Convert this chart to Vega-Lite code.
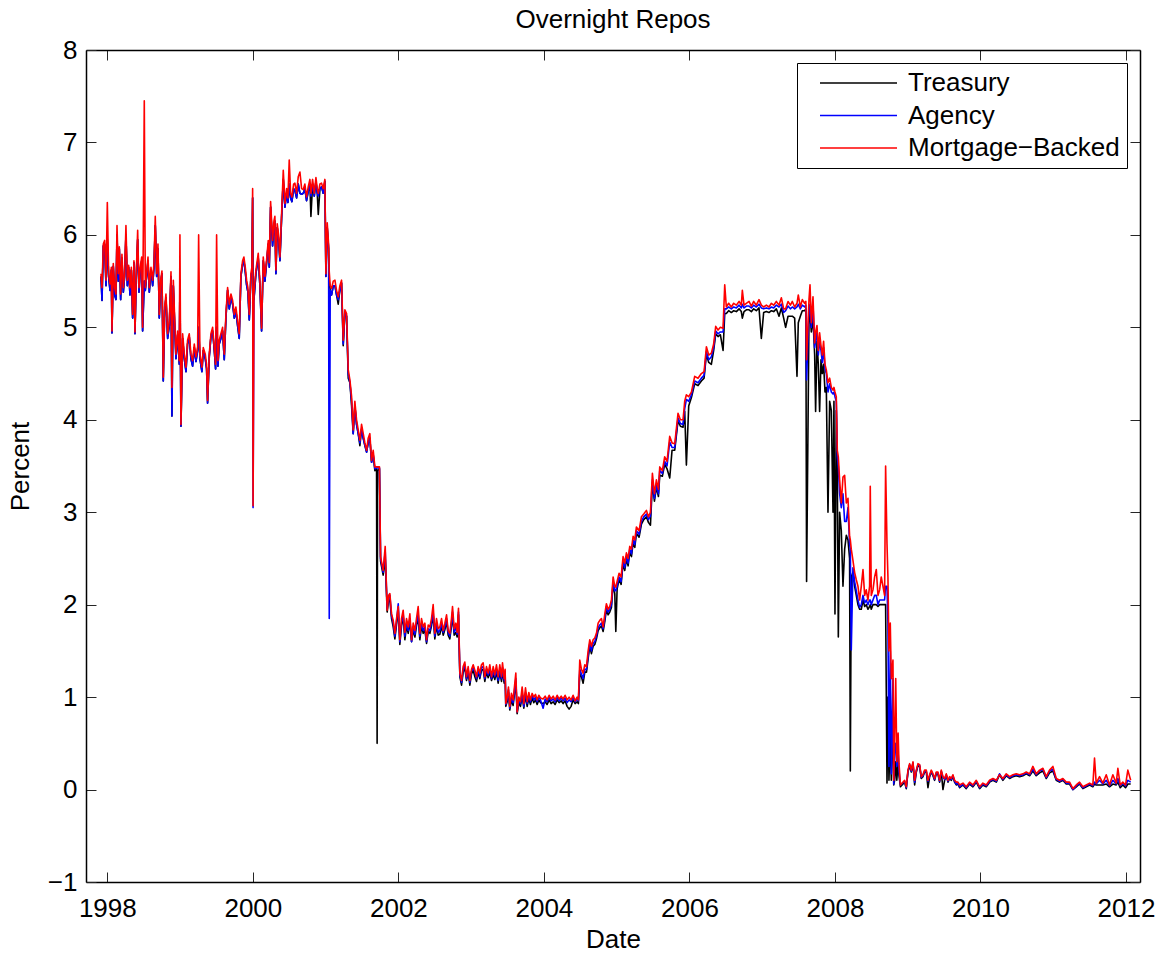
{
"$schema":"https://vega.github.io/schema/vega-lite/v6.json",
"width":1054,"height":832,"autosize":"none",
"padding":{"left":86,"top":50,"right":22,"bottom":71},
"background":"white",
"title":{"text":"Overnight Repos","fontSize":26,"fontWeight":"normal","color":"black","baseline":"alphabetic","offset":15,"dy":32,"anchor":"middle"},
"config":{"font":"Liberation Sans","view":{"stroke":null},
"axis":{"grid":false,"domainColor":"black","domainWidth":1.5,"tickColor":"#262626","tickWidth":1,"tickSize":-10,"labelFontSize":26,"labelColor":"black","titleFontSize":26,"titleFontWeight":"normal","titleColor":"black","labelFlush":false,"labelOverlap":false},
"legend":{"strokeColor":"black","fillColor":"white","padding":7,"labelFontSize":26,"labelColor":"black","labelLimit":400,"symbolType":"M0.6,0H16","symbolSize":100,"symbolStrokeWidth":1.3,"labelOffset":78,"rowPadding":6.5}},
"datasets":{"repo":[
{"yr":1997.913,"T":5.55,"A":5.55,"M":5.58},{"yr":1997.927,"T":5.29,"A":5.29,"M":5.43},{"yr":1997.945,"T":5.88,"A":5.88,"M":5.90},{"yr":1997.963,"T":5.90,"A":5.90,"M":5.94},{"yr":1997.982,"T":5.45,"A":5.45,"M":5.51},{"yr":1998.000,"T":5.95,"A":5.95,"M":6.35},{"yr":1998.018,"T":5.55,"A":5.55,"M":5.58},{"yr":1998.037,"T":5.40,"A":5.40,"M":5.47},{"yr":1998.055,"T":5.62,"A":5.62,"M":5.65},{"yr":1998.064,"T":4.94,"A":4.94,"M":4.96},{"yr":1998.082,"T":5.66,"A":5.66,"M":5.69},{"yr":1998.101,"T":5.35,"A":5.35,"M":5.43},{"yr":1998.119,"T":5.30,"A":5.30,"M":5.36},{"yr":1998.133,"T":6.00,"A":6.00,"M":6.10},{"yr":1998.151,"T":5.50,"A":5.50,"M":5.58},{"yr":1998.165,"T":5.85,"A":5.85,"M":5.87},{"yr":1998.183,"T":5.30,"A":5.30,"M":5.36},{"yr":1998.201,"T":5.75,"A":5.75,"M":5.79},{"yr":1998.220,"T":5.38,"A":5.38,"M":5.43},{"yr":1998.238,"T":5.55,"A":5.55,"M":5.58},{"yr":1998.256,"T":6.00,"A":6.00,"M":6.10},{"yr":1998.275,"T":5.45,"A":5.45,"M":5.51},{"yr":1998.293,"T":5.65,"A":5.65,"M":5.67},{"yr":1998.311,"T":5.35,"A":5.35,"M":5.43},{"yr":1998.330,"T":5.62,"A":5.62,"M":5.65},{"yr":1998.348,"T":5.10,"A":5.10,"M":5.14},{"yr":1998.366,"T":5.70,"A":5.70,"M":5.72},{"yr":1998.380,"T":4.93,"A":4.93,"M":4.95},{"yr":1998.398,"T":5.55,"A":5.55,"M":5.58},{"yr":1998.417,"T":5.95,"A":5.95,"M":6.05},{"yr":1998.435,"T":5.38,"A":5.38,"M":5.43},{"yr":1998.453,"T":5.62,"A":5.62,"M":5.65},{"yr":1998.472,"T":5.72,"A":5.72,"M":5.76},{"yr":1998.485,"T":4.96,"A":4.96,"M":5.00},{"yr":1998.508,"T":5.50,"A":5.50,"M":7.45},{"yr":1998.522,"T":5.40,"A":5.40,"M":5.43},{"yr":1998.540,"T":5.55,"A":5.55,"M":5.58},{"yr":1998.559,"T":5.72,"A":5.72,"M":5.76},{"yr":1998.577,"T":5.38,"A":5.38,"M":5.43},{"yr":1998.600,"T":5.62,"A":5.62,"M":5.65},{"yr":1998.623,"T":5.45,"A":5.45,"M":5.51},{"yr":1998.641,"T":5.65,"A":5.65,"M":5.69},{"yr":1998.659,"T":6.10,"A":6.10,"M":6.20},{"yr":1998.678,"T":5.55,"A":5.55,"M":5.58},{"yr":1998.696,"T":5.85,"A":5.85,"M":5.90},{"yr":1998.714,"T":5.10,"A":5.10,"M":5.14},{"yr":1998.733,"T":5.48,"A":5.48,"M":5.51},{"yr":1998.751,"T":5.58,"A":5.58,"M":5.61},{"yr":1998.769,"T":4.42,"A":4.42,"M":4.46},{"yr":1998.788,"T":5.18,"A":5.18,"M":5.22},{"yr":1998.806,"T":5.32,"A":5.32,"M":5.36},{"yr":1998.829,"T":4.88,"A":4.88,"M":4.93},{"yr":1998.852,"T":5.02,"A":5.02,"M":5.07},{"yr":1998.875,"T":5.55,"A":5.55,"M":5.60},{"yr":1998.888,"T":4.04,"A":4.04,"M":4.35},{"yr":1998.907,"T":5.45,"A":5.45,"M":5.51},{"yr":1998.925,"T":5.05,"A":5.05,"M":5.11},{"yr":1998.943,"T":4.66,"A":4.66,"M":4.71},{"yr":1998.966,"T":4.92,"A":4.92,"M":4.96},{"yr":1998.989,"T":4.60,"A":4.60,"M":4.64},{"yr":1998.998,"T":5.50,"A":5.50,"M":6.00},{"yr":1999.012,"T":3.93,"A":3.93,"M":3.95},{"yr":1999.035,"T":4.88,"A":4.88,"M":4.93},{"yr":1999.058,"T":4.66,"A":4.66,"M":4.71},{"yr":1999.081,"T":4.52,"A":4.52,"M":4.57},{"yr":1999.103,"T":4.82,"A":4.82,"M":4.86},{"yr":1999.126,"T":4.90,"A":4.90,"M":4.93},{"yr":1999.149,"T":4.66,"A":4.66,"M":4.71},{"yr":1999.172,"T":4.58,"A":4.58,"M":4.64},{"yr":1999.195,"T":4.78,"A":4.78,"M":4.82},{"yr":1999.218,"T":4.63,"A":4.63,"M":4.68},{"yr":1999.241,"T":4.75,"A":4.75,"M":4.78},{"yr":1999.255,"T":5.00,"A":5.00,"M":6.00},{"yr":1999.273,"T":4.66,"A":4.66,"M":4.71},{"yr":1999.300,"T":4.52,"A":4.52,"M":4.57},{"yr":1999.319,"T":4.75,"A":4.75,"M":4.78},{"yr":1999.346,"T":4.66,"A":4.66,"M":4.71},{"yr":1999.364,"T":4.55,"A":4.55,"M":4.60},{"yr":1999.378,"T":4.18,"A":4.18,"M":4.21},{"yr":1999.401,"T":4.68,"A":4.68,"M":4.71},{"yr":1999.424,"T":4.90,"A":4.90,"M":4.93},{"yr":1999.447,"T":4.96,"A":4.96,"M":5.00},{"yr":1999.470,"T":4.75,"A":4.75,"M":4.78},{"yr":1999.488,"T":4.55,"A":4.55,"M":4.60},{"yr":1999.502,"T":5.00,"A":5.00,"M":6.00},{"yr":1999.520,"T":4.58,"A":4.58,"M":4.64},{"yr":1999.538,"T":4.82,"A":4.82,"M":4.86},{"yr":1999.561,"T":4.88,"A":4.88,"M":4.93},{"yr":1999.584,"T":4.96,"A":4.96,"M":5.00},{"yr":1999.607,"T":4.65,"A":4.65,"M":4.71},{"yr":1999.630,"T":5.10,"A":5.10,"M":5.14},{"yr":1999.653,"T":5.40,"A":5.40,"M":5.43},{"yr":1999.676,"T":5.20,"A":5.20,"M":5.25},{"yr":1999.699,"T":5.32,"A":5.32,"M":5.36},{"yr":1999.722,"T":5.25,"A":5.25,"M":5.29},{"yr":1999.745,"T":5.10,"A":5.10,"M":5.14},{"yr":1999.767,"T":5.18,"A":5.18,"M":5.22},{"yr":1999.790,"T":5.02,"A":5.02,"M":5.07},{"yr":1999.813,"T":4.88,"A":4.88,"M":4.93},{"yr":1999.836,"T":5.55,"A":5.55,"M":5.58},{"yr":1999.859,"T":5.68,"A":5.68,"M":5.72},{"yr":1999.877,"T":5.72,"A":5.72,"M":5.76},{"yr":1999.896,"T":5.60,"A":5.60,"M":5.65},{"yr":1999.914,"T":5.46,"A":5.46,"M":5.51},{"yr":1999.932,"T":5.38,"A":5.38,"M":5.43},{"yr":1999.951,"T":5.08,"A":5.08,"M":5.14},{"yr":1999.973,"T":5.54,"A":5.54,"M":5.58},{"yr":1999.987,"T":5.60,"A":5.60,"M":5.65},{"yr":1999.997,"T":6.40,"A":6.40,"M":6.50},{"yr":2000.003,"T":5.30,"A":3.05,"M":3.07},
{"yr":2000.015,"T":5.30,"A":5.30,"M":5.37},{"yr":2000.042,"T":5.58,"A":5.58,"M":5.62},{"yr":2000.074,"T":5.75,"A":5.75,"M":5.80},{"yr":2000.097,"T":5.45,"A":5.45,"M":5.50},{"yr":2000.120,"T":4.96,"A":4.96,"M":4.99},{"yr":2000.143,"T":5.72,"A":5.72,"M":5.76},{"yr":2000.166,"T":5.50,"A":5.50,"M":5.55},{"yr":2000.189,"T":5.70,"A":5.70,"M":5.73},{"yr":2000.212,"T":5.90,"A":5.90,"M":5.94},{"yr":2000.226,"T":5.65,"A":5.65,"M":5.70},{"yr":2000.244,"T":6.30,"A":6.30,"M":6.36},{"yr":2000.271,"T":5.88,"A":5.88,"M":5.94},{"yr":2000.290,"T":6.10,"A":6.10,"M":6.15},{"yr":2000.303,"T":6.15,"A":6.15,"M":6.20},{"yr":2000.317,"T":5.58,"A":5.58,"M":5.62},{"yr":2000.335,"T":6.08,"A":6.08,"M":6.12},{"yr":2000.354,"T":5.95,"A":5.95,"M":6.00},{"yr":2000.372,"T":5.72,"A":5.72,"M":5.76},{"yr":2000.395,"T":6.18,"A":6.18,"M":6.22},{"yr":2000.418,"T":6.60,"A":6.60,"M":6.70},{"yr":2000.441,"T":6.30,"A":6.30,"M":6.34},{"yr":2000.464,"T":6.45,"A":6.45,"M":6.50},{"yr":2000.482,"T":6.35,"A":6.35,"M":6.40},{"yr":2000.500,"T":6.55,"A":6.55,"M":6.81},{"yr":2000.519,"T":6.40,"A":6.40,"M":6.45},{"yr":2000.537,"T":6.36,"A":6.36,"M":6.41},{"yr":2000.560,"T":6.50,"A":6.50,"M":6.55},{"yr":2000.578,"T":6.48,"A":6.48,"M":6.56},{"yr":2000.601,"T":6.40,"A":6.40,"M":6.45},{"yr":2000.624,"T":6.55,"A":6.55,"M":6.63},{"yr":2000.647,"T":6.45,"A":6.45,"M":6.68},{"yr":2000.670,"T":6.44,"A":6.44,"M":6.50},{"yr":2000.693,"T":6.45,"A":6.45,"M":6.49},{"yr":2000.715,"T":6.50,"A":6.50,"M":6.55},{"yr":2000.738,"T":6.37,"A":6.37,"M":6.41},{"yr":2000.761,"T":6.47,"A":6.47,"M":6.52},{"yr":2000.784,"T":6.55,"A":6.55,"M":6.60},{"yr":2000.798,"T":6.20,"A":6.42,"M":6.45},{"yr":2000.821,"T":6.55,"A":6.55,"M":6.60},{"yr":2000.844,"T":6.42,"A":6.42,"M":6.45},{"yr":2000.867,"T":6.58,"A":6.58,"M":6.62},{"yr":2000.885,"T":6.45,"A":6.45,"M":6.50},{"yr":2000.899,"T":6.22,"A":6.42,"M":6.45},{"yr":2000.922,"T":6.50,"A":6.50,"M":6.55},{"yr":2000.944,"T":6.52,"A":6.52,"M":6.56},{"yr":2000.967,"T":6.45,"A":6.45,"M":6.50},{"yr":2000.990,"T":6.58,"A":6.58,"M":6.60},{"yr":2001.004,"T":5.55,"A":5.55,"M":5.58},{"yr":2001.022,"T":6.08,"A":6.08,"M":6.13},{"yr":2001.041,"T":5.85,"A":5.85,"M":5.90},{"yr":2001.050,"T":5.50,"A":1.85,"M":5.60},{"yr":2001.063,"T":5.40,"A":5.40,"M":5.45},{"yr":2001.082,"T":5.35,"A":5.35,"M":5.42},{"yr":2001.105,"T":5.45,"A":5.45,"M":5.50},{"yr":2001.128,"T":5.45,"A":5.45,"M":5.51},{"yr":2001.150,"T":5.35,"A":5.35,"M":5.40},{"yr":2001.173,"T":5.25,"A":5.30,"M":5.33},{"yr":2001.196,"T":5.40,"A":5.40,"M":5.45},{"yr":2001.219,"T":5.48,"A":5.48,"M":5.51},{"yr":2001.242,"T":4.80,"A":4.82,"M":4.86},{"yr":2001.265,"T":5.15,"A":5.15,"M":5.19},{"yr":2001.288,"T":5.12,"A":5.12,"M":5.15},{"yr":2001.311,"T":4.45,"A":4.50,"M":4.54},{"yr":2001.334,"T":4.40,"A":4.40,"M":4.43},{"yr":2001.357,"T":4.15,"A":4.20,"M":4.25},{"yr":2001.379,"T":3.85,"A":3.85,"M":3.89},{"yr":2001.402,"T":4.15,"A":4.15,"M":4.20},{"yr":2001.425,"T":3.95,"A":3.95,"M":4.00},{"yr":2001.448,"T":3.85,"A":3.85,"M":3.89},{"yr":2001.471,"T":3.72,"A":3.75,"M":3.78},{"yr":2001.494,"T":3.90,"A":3.90,"M":3.95},{"yr":2001.517,"T":3.80,"A":3.80,"M":3.85},{"yr":2001.540,"T":3.72,"A":3.72,"M":3.75},{"yr":2001.563,"T":3.65,"A":3.65,"M":3.67},{"yr":2001.585,"T":3.75,"A":3.75,"M":3.80},{"yr":2001.608,"T":3.80,"A":3.80,"M":3.85},{"yr":2001.631,"T":3.54,"A":3.54,"M":3.56},{"yr":2001.654,"T":3.62,"A":3.62,"M":3.67},{"yr":2001.677,"T":3.45,"A":3.47,"M":3.49},{"yr":2001.700,"T":3.47,"A":3.48,"M":3.49},{"yr":2001.708,"T":0.50,"A":3.48,"M":3.49},{"yr":2001.714,"T":3.45,"A":3.48,"M":3.49},{"yr":2001.740,"T":3.47,"A":3.48,"M":3.49},{"yr":2001.755,"T":2.47,"A":2.50,"M":2.52},
{"yr":2001.791,"T":2.32,"A":2.35,"M":2.37},{"yr":2001.819,"T":2.50,"A":2.58,"M":2.63},{"yr":2001.846,"T":1.92,"A":1.95,"M":1.94},{"yr":2001.865,"T":2.05,"A":2.08,"M":2.10},{"yr":2001.883,"T":2.05,"A":2.10,"M":2.12},{"yr":2001.906,"T":1.85,"A":1.88,"M":1.90},{"yr":2001.929,"T":1.76,"A":1.80,"M":1.83},{"yr":2001.952,"T":1.63,"A":1.66,"M":1.69},{"yr":2001.975,"T":1.79,"A":1.82,"M":1.85},{"yr":2001.998,"T":1.94,"A":2.01,"M":1.98},{"yr":2002.020,"T":1.57,"A":1.60,"M":1.62},{"yr":2002.043,"T":1.77,"A":1.80,"M":1.85},{"yr":2002.066,"T":1.87,"A":1.90,"M":1.94},{"yr":2002.089,"T":1.62,"A":1.66,"M":1.70},{"yr":2002.112,"T":1.77,"A":1.80,"M":1.85},{"yr":2002.135,"T":1.69,"A":1.72,"M":1.76},{"yr":2002.158,"T":1.82,"A":1.85,"M":1.90},{"yr":2002.181,"T":1.60,"A":1.60,"M":1.62},{"yr":2002.204,"T":1.73,"A":1.76,"M":1.80},{"yr":2002.227,"T":1.65,"A":1.68,"M":1.72},{"yr":2002.249,"T":1.77,"A":1.80,"M":1.85},{"yr":2002.272,"T":1.87,"A":1.90,"M":1.98},{"yr":2002.295,"T":1.62,"A":1.66,"M":1.69},{"yr":2002.318,"T":1.77,"A":1.80,"M":1.85},{"yr":2002.341,"T":1.69,"A":1.72,"M":1.76},{"yr":2002.364,"T":1.73,"A":1.76,"M":1.80},{"yr":2002.387,"T":1.58,"A":1.60,"M":1.62},{"yr":2002.410,"T":1.71,"A":1.74,"M":1.78},{"yr":2002.433,"T":1.69,"A":1.72,"M":1.76},{"yr":2002.455,"T":1.77,"A":1.80,"M":1.85},{"yr":2002.478,"T":1.89,"A":1.92,"M":2.00},{"yr":2002.501,"T":1.63,"A":1.66,"M":1.69},{"yr":2002.524,"T":1.77,"A":1.80,"M":1.85},{"yr":2002.547,"T":1.67,"A":1.70,"M":1.74},{"yr":2002.570,"T":1.68,"A":1.72,"M":1.76},{"yr":2002.593,"T":1.77,"A":1.80,"M":1.85},{"yr":2002.616,"T":1.67,"A":1.70,"M":1.72},{"yr":2002.639,"T":1.73,"A":1.76,"M":1.80},{"yr":2002.662,"T":1.82,"A":1.85,"M":1.89},{"yr":2002.684,"T":1.67,"A":1.70,"M":1.72},{"yr":2002.707,"T":1.63,"A":1.66,"M":1.69},{"yr":2002.730,"T":1.77,"A":1.80,"M":1.85},{"yr":2002.744,"T":1.89,"A":1.92,"M":1.98},{"yr":2002.767,"T":1.67,"A":1.70,"M":1.74},{"yr":2002.790,"T":1.70,"A":1.76,"M":1.80},{"yr":2002.808,"T":1.65,"A":1.68,"M":1.70},{"yr":2002.826,"T":1.89,"A":1.92,"M":1.96},{"yr":2002.845,"T":1.22,"A":1.24,"M":1.26},{"yr":2002.868,"T":1.13,"A":1.16,"M":1.18},{"yr":2002.890,"T":1.27,"A":1.30,"M":1.33},{"yr":2002.913,"T":1.32,"A":1.35,"M":1.38},{"yr":2002.936,"T":1.18,"A":1.20,"M":1.22},{"yr":2002.959,"T":1.27,"A":1.30,"M":1.33},{"yr":2002.982,"T":1.13,"A":1.16,"M":1.18},{"yr":2003.005,"T":1.25,"A":1.28,"M":1.30},{"yr":2003.028,"T":1.29,"A":1.32,"M":1.35},{"yr":2003.051,"T":1.22,"A":1.27,"M":1.29},{"yr":2003.074,"T":1.17,"A":1.20,"M":1.22},{"yr":2003.096,"T":1.27,"A":1.30,"M":1.33},{"yr":2003.119,"T":1.20,"A":1.22,"M":1.26},{"yr":2003.142,"T":1.29,"A":1.32,"M":1.35},{"yr":2003.165,"T":1.30,"A":1.33,"M":1.37},{"yr":2003.188,"T":1.17,"A":1.20,"M":1.22},{"yr":2003.211,"T":1.27,"A":1.30,"M":1.33},{"yr":2003.234,"T":1.21,"A":1.24,"M":1.26},{"yr":2003.257,"T":1.27,"A":1.30,"M":1.35},{"yr":2003.280,"T":1.18,"A":1.20,"M":1.22},{"yr":2003.303,"T":1.25,"A":1.28,"M":1.33},{"yr":2003.325,"T":1.19,"A":1.22,"M":1.24},{"yr":2003.348,"T":1.27,"A":1.30,"M":1.35},{"yr":2003.371,"T":1.15,"A":1.18,"M":1.22},{"yr":2003.394,"T":1.27,"A":1.30,"M":1.35},{"yr":2003.417,"T":1.17,"A":1.20,"M":1.22},{"yr":2003.431,"T":1.29,"A":1.32,"M":1.37},{"yr":2003.454,"T":1.15,"A":1.18,"M":1.20},{"yr":2003.467,"T":1.25,"A":1.28,"M":1.30},{"yr":2003.476,"T":0.90,"A":0.92,"M":0.93},{"yr":2003.495,"T":0.95,"A":0.98,"M":1.00},{"yr":2003.513,"T":1.05,"A":1.08,"M":1.11},{"yr":2003.531,"T":0.86,"A":0.88,"M":0.90},{"yr":2003.554,"T":0.97,"A":1.00,"M":1.04},{"yr":2003.577,"T":0.91,"A":0.94,"M":0.97},{"yr":2003.600,"T":1.07,"A":1.10,"M":1.15},{"yr":2003.614,"T":1.17,"A":1.20,"M":1.26},{"yr":2003.632,"T":0.82,"A":0.84,"M":0.84},{"yr":2003.655,"T":0.94,"A":0.97,"M":1.00},{"yr":2003.678,"T":0.90,"A":0.93,"M":0.95},{"yr":2003.701,"T":1.02,"A":1.05,"M":1.11},{"yr":2003.724,"T":0.88,"A":0.90,"M":0.93},{"yr":2003.747,"T":1.02,"A":1.05,"M":1.10},{"yr":2003.770,"T":0.90,"A":0.93,"M":0.95},{"yr":2003.793,"T":0.99,"A":1.02,"M":1.05},{"yr":2003.815,"T":0.92,"A":0.95,"M":0.97},{"yr":2003.838,"T":0.99,"A":1.02,"M":1.04},{"yr":2003.861,"T":0.94,"A":0.97,"M":1.00},{"yr":2003.884,"T":0.97,"A":1.00,"M":1.03},{"yr":2003.907,"T":0.92,"A":0.95,"M":0.97},{"yr":2003.930,"T":0.97,"A":1.00,"M":1.02},{"yr":2003.953,"T":0.94,"A":0.97,"M":0.99},{"yr":2003.989,"T":0.93,"A":0.88,"M":0.98},{"yr":2004.017,"T":0.95,"A":0.98,"M":1.01},{"yr":2004.044,"T":0.92,"A":0.95,"M":0.97},{"yr":2004.072,"T":0.97,"A":1.00,"M":1.02},{"yr":2004.099,"T":0.93,"A":0.96,"M":0.98},{"yr":2004.127,"T":0.95,"A":0.98,"M":1.01},{"yr":2004.154,"T":0.92,"A":0.95,"M":0.97},{"yr":2004.182,"T":0.97,"A":1.00,"M":1.02},{"yr":2004.209,"T":0.94,"A":0.96,"M":0.98},{"yr":2004.237,"T":0.96,"A":0.99,"M":1.01},{"yr":2004.264,"T":0.93,"A":0.96,"M":0.98},{"yr":2004.291,"T":0.96,"A":0.99,"M":1.02},{"yr":2004.319,"T":0.90,"A":0.94,"M":0.97},{"yr":2004.346,"T":0.87,"A":0.97,"M":1.00},{"yr":2004.374,"T":0.90,"A":0.95,"M":0.97},{"yr":2004.401,"T":0.97,"A":1.00,"M":1.02},{"yr":2004.429,"T":0.93,"A":0.95,"M":0.96},{"yr":2004.456,"T":0.95,"A":0.98,"M":1.00},{"yr":2004.474,"T":0.93,"A":0.96,"M":0.97},{"yr":2004.493,"T":1.25,"A":1.30,"M":1.40},{"yr":2004.516,"T":1.22,"A":1.25,"M":1.30},{"yr":2004.539,"T":1.15,"A":1.20,"M":1.26},{"yr":2004.562,"T":1.27,"A":1.30,"M":1.35},{"yr":2004.585,"T":1.27,"A":1.30,"M":1.33},{"yr":2004.608,"T":1.42,"A":1.45,"M":1.50},{"yr":2004.630,"T":1.55,"A":1.58,"M":1.62},{"yr":2004.653,"T":1.47,"A":1.50,"M":1.55},{"yr":2004.676,"T":1.55,"A":1.58,"M":1.62},{"yr":2004.699,"T":1.57,"A":1.60,"M":1.64},{"yr":2004.722,"T":1.63,"A":1.66,"M":1.69},{"yr":2004.745,"T":1.72,"A":1.75,"M":1.80},{"yr":2004.768,"T":1.75,"A":1.78,"M":1.83},{"yr":2004.791,"T":1.77,"A":1.80,"M":1.85},{"yr":2004.814,"T":1.71,"A":1.74,"M":1.76},{"yr":2004.837,"T":1.82,"A":1.85,"M":1.90},{"yr":2004.859,"T":1.95,"A":1.98,"M":2.01},{"yr":2004.882,"T":1.89,"A":1.92,"M":1.95},{"yr":2004.905,"T":1.92,"A":1.95,"M":1.98},{"yr":2004.928,"T":1.97,"A":2.00,"M":2.05},{"yr":2004.951,"T":2.22,"A":2.25,"M":2.30},{"yr":2004.974,"T":2.12,"A":2.15,"M":2.20},{"yr":2004.988,"T":1.71,"A":2.15,"M":2.19},{"yr":2005.006,"T":2.17,"A":2.20,"M":2.25},{"yr":2005.033,"T":2.27,"A":2.30,"M":2.34},{"yr":2005.061,"T":2.22,"A":2.25,"M":2.30},{"yr":2005.088,"T":2.45,"A":2.48,"M":2.52},{"yr":2005.111,"T":2.37,"A":2.40,"M":2.45},{"yr":2005.134,"T":2.49,"A":2.52,"M":2.56},{"yr":2005.157,"T":2.42,"A":2.45,"M":2.50},{"yr":2005.180,"T":2.57,"A":2.60,"M":2.63},{"yr":2005.203,"T":2.52,"A":2.55,"M":2.60},{"yr":2005.226,"T":2.67,"A":2.70,"M":2.74},{"yr":2005.249,"T":2.62,"A":2.65,"M":2.70},{"yr":2005.271,"T":2.77,"A":2.80,"M":2.84},{"yr":2005.308,"T":2.73,"A":2.76,"M":2.80},{"yr":2005.340,"T":2.87,"A":2.90,"M":2.95},{"yr":2005.372,"T":2.92,"A":2.95,"M":2.98},{"yr":2005.409,"T":2.95,"A":2.98,"M":3.02},{"yr":2005.436,"T":2.89,"A":2.92,"M":2.95},{"yr":2005.464,"T":2.86,"A":2.96,"M":3.00},{"yr":2005.491,"T":3.32,"A":3.35,"M":3.42},{"yr":2005.519,"T":3.12,"A":3.15,"M":3.20},{"yr":2005.546,"T":3.27,"A":3.30,"M":3.35},{"yr":2005.574,"T":3.17,"A":3.20,"M":3.25},{"yr":2005.592,"T":3.40,"A":3.45,"M":3.49},{"yr":2005.628,"T":3.39,"A":3.42,"M":3.45},{"yr":2005.660,"T":3.52,"A":3.55,"M":3.60},{"yr":2005.692,"T":3.47,"A":3.50,"M":3.55},{"yr":2005.729,"T":3.37,"A":3.76,"M":3.82},{"yr":2005.761,"T":3.67,"A":3.70,"M":3.75},{"yr":2005.798,"T":3.67,"A":3.70,"M":3.74},{"yr":2005.843,"T":3.99,"A":4.02,"M":4.07},{"yr":2005.876,"T":3.93,"A":3.96,"M":4.00},{"yr":2005.912,"T":3.92,"A":3.95,"M":4.00},{"yr":2005.935,"T":4.09,"A":4.12,"M":4.20},{"yr":2005.958,"T":3.51,"A":4.22,"M":4.27},{"yr":2005.990,"T":4.15,"A":4.20,"M":4.25},{"yr":2006.027,"T":4.24,"A":4.27,"M":4.30},{"yr":2006.072,"T":4.39,"A":4.42,"M":4.47},{"yr":2006.118,"T":4.37,"A":4.40,"M":4.45},{"yr":2006.164,"T":4.42,"A":4.45,"M":4.50},{"yr":2006.201,"T":4.45,"A":4.48,"M":4.52},{"yr":2006.233,"T":4.71,"A":4.74,"M":4.79},{"yr":2006.265,"T":4.62,"A":4.65,"M":4.70},{"yr":2006.301,"T":4.60,"A":4.68,"M":4.72},{"yr":2006.333,"T":4.75,"A":4.78,"M":4.82},{"yr":2006.361,"T":4.93,"A":4.96,"M":5.01},{"yr":2006.393,"T":4.90,"A":4.93,"M":4.97},{"yr":2006.425,"T":4.92,"A":4.95,"M":5.00},{"yr":2006.462,"T":4.75,"A":4.95,"M":4.99},{"yr":2006.485,"T":5.15,"A":5.20,"M":5.46},{"yr":2006.507,"T":5.15,"A":5.20,"M":5.22},
{"yr":2006.539,"T":5.18,"A":5.22,"M":5.26},{"yr":2006.576,"T":5.16,"A":5.20,"M":5.22},{"yr":2006.608,"T":5.18,"A":5.22,"M":5.26},{"yr":2006.645,"T":5.17,"A":5.21,"M":5.24},{"yr":2006.682,"T":5.20,"A":5.24,"M":5.28},{"yr":2006.713,"T":5.17,"A":5.21,"M":5.24},{"yr":2006.727,"T":5.10,"A":5.25,"M":5.40},{"yr":2006.750,"T":5.17,"A":5.21,"M":5.24},{"yr":2006.782,"T":5.19,"A":5.23,"M":5.26},{"yr":2006.819,"T":5.19,"A":5.23,"M":5.28},{"yr":2006.851,"T":5.17,"A":5.21,"M":5.23},{"yr":2006.883,"T":5.20,"A":5.24,"M":5.28},{"yr":2006.919,"T":5.18,"A":5.22,"M":5.24},{"yr":2006.956,"T":5.21,"A":5.25,"M":5.30},{"yr":2006.988,"T":4.88,"A":5.21,"M":5.24},{"yr":2007.020,"T":5.16,"A":5.20,"M":5.22},{"yr":2007.057,"T":5.17,"A":5.21,"M":5.24},{"yr":2007.093,"T":5.16,"A":5.20,"M":5.22},{"yr":2007.126,"T":5.18,"A":5.22,"M":5.26},{"yr":2007.158,"T":5.17,"A":5.21,"M":5.24},{"yr":2007.194,"T":5.20,"A":5.24,"M":5.28},{"yr":2007.231,"T":5.12,"A":5.22,"M":5.24},{"yr":2007.263,"T":5.21,"A":5.25,"M":5.32},{"yr":2007.295,"T":5.10,"A":5.16,"M":5.20},{"yr":2007.322,"T":5.00,"A":5.18,"M":5.20},{"yr":2007.355,"T":5.12,"A":5.23,"M":5.28},{"yr":2007.387,"T":5.12,"A":5.20,"M":5.24},{"yr":2007.414,"T":5.12,"A":5.22,"M":5.28},{"yr":2007.446,"T":5.10,"A":5.20,"M":5.22},{"yr":2007.478,"T":4.47,"A":5.22,"M":5.26},{"yr":2007.496,"T":5.05,"A":5.25,"M":5.35},{"yr":2007.524,"T":5.12,"A":5.20,"M":5.22},{"yr":2007.551,"T":5.18,"A":5.24,"M":5.30},{"yr":2007.583,"T":5.18,"A":5.22,"M":5.26},{"yr":2007.600,"T":5.20,"A":5.24,"M":5.28},{"yr":2007.610,"T":2.25,"A":4.43,"M":4.65},
{"yr":2007.643,"T":5.10,"A":5.20,"M":5.30},{"yr":2007.657,"T":5.15,"A":5.25,"M":5.46},{"yr":2007.675,"T":4.95,"A":5.00,"M":5.05},{"yr":2007.698,"T":5.10,"A":5.25,"M":5.33},{"yr":2007.721,"T":4.70,"A":4.78,"M":4.83},{"yr":2007.734,"T":4.09,"A":4.85,"M":4.95},{"yr":2007.753,"T":4.85,"A":4.95,"M":5.02},{"yr":2007.771,"T":4.60,"A":4.70,"M":4.75},{"yr":2007.789,"T":4.09,"A":4.85,"M":4.94},{"yr":2007.808,"T":4.65,"A":4.75,"M":4.80},{"yr":2007.826,"T":4.50,"A":4.62,"M":4.70},{"yr":2007.844,"T":4.60,"A":4.78,"M":4.85},{"yr":2007.863,"T":4.30,"A":4.55,"M":4.60},{"yr":2007.881,"T":4.35,"A":4.50,"M":4.54},{"yr":2007.904,"T":3.00,"A":4.30,"M":4.40},{"yr":2007.927,"T":4.20,"A":4.39,"M":4.45},{"yr":2007.950,"T":4.10,"A":4.30,"M":4.35},{"yr":2007.973,"T":3.00,"A":4.28,"M":4.32},{"yr":2007.986,"T":4.20,"A":4.30,"M":4.35},{"yr":2008.000,"T":1.90,"A":4.25,"M":4.30},{"yr":2008.018,"T":4.10,"A":4.20,"M":4.25},{"yr":2008.032,"T":3.40,"A":3.60,"M":3.67},{"yr":2008.046,"T":1.65,"A":3.50,"M":3.60},{"yr":2008.064,"T":3.00,"A":3.20,"M":3.35},{"yr":2008.087,"T":2.80,"A":3.05,"M":3.10},{"yr":2008.110,"T":2.20,"A":3.20,"M":3.38},{"yr":2008.133,"T":2.60,"A":2.90,"M":3.40},{"yr":2008.156,"T":2.75,"A":2.90,"M":3.10},{"yr":2008.179,"T":2.70,"A":3.05,"M":3.15},{"yr":2008.201,"T":2.50,"A":2.65,"M":2.74},{"yr":2008.211,"T":0.20,"A":2.60,"M":2.70},{"yr":2008.224,"T":2.30,"A":1.51,"M":2.60},{"yr":2008.247,"T":2.35,"A":2.40,"M":2.48},{"yr":2008.270,"T":2.20,"A":2.25,"M":2.35},{"yr":2008.293,"T":2.10,"A":2.15,"M":2.27},{"yr":2008.316,"T":2.00,"A":2.05,"M":2.20},{"yr":2008.339,"T":1.95,"A":1.97,"M":2.05},{"yr":2008.362,"T":1.95,"A":2.00,"M":2.20},{"yr":2008.385,"T":2.05,"A":2.10,"M":2.38},{"yr":2008.408,"T":1.98,"A":2.02,"M":2.10},{"yr":2008.430,"T":2.00,"A":2.05,"M":2.16},{"yr":2008.453,"T":1.95,"A":2.00,"M":2.05},{"yr":2008.476,"T":1.98,"A":2.05,"M":2.20},{"yr":2008.485,"T":2.00,"A":2.05,"M":3.28},{"yr":2008.499,"T":1.95,"A":2.00,"M":2.10},{"yr":2008.522,"T":2.00,"A":2.05,"M":2.16},{"yr":2008.545,"T":2.00,"A":2.10,"M":2.30},{"yr":2008.568,"T":2.00,"A":2.10,"M":2.38},{"yr":2008.591,"T":1.98,"A":2.00,"M":2.10},{"yr":2008.614,"T":2.00,"A":2.05,"M":2.16},{"yr":2008.636,"T":2.00,"A":2.05,"M":2.30},{"yr":2008.659,"T":2.00,"A":2.05,"M":2.20},{"yr":2008.682,"T":2.00,"A":2.05,"M":2.10},{"yr":2008.696,"T":2.00,"A":2.20,"M":3.50},{"yr":2008.715,"T":0.07,"A":2.20,"M":2.66},{"yr":2008.728,"T":1.00,"A":1.80,"M":2.30},{"yr":2008.742,"T":0.10,"A":0.25,"M":1.50},{"yr":2008.760,"T":0.60,"A":1.50,"M":1.80},{"yr":2008.774,"T":0.10,"A":0.17,"M":1.20},{"yr":2008.797,"T":0.80,"A":1.20,"M":1.40},{"yr":2008.808,"T":0.05,"A":0.06,"M":0.10},{"yr":2008.820,"T":0.10,"A":0.43,"M":0.60},{"yr":2008.835,"T":0.30,"A":0.50,"M":1.20},{"yr":2008.850,"T":0.10,"A":0.25,"M":0.30},{"yr":2008.868,"T":0.30,"A":0.40,"M":0.61},{"yr":2008.880,"T":0.15,"A":0.20,"M":0.28},{"yr":2008.900,"T":0.03,"A":0.05,"M":0.05},
{"yr":2008.957,"T":0.08,"A":0.09,"M":0.10},{"yr":2008.980,"T":0.01,"A":0.02,"M":0.03},{"yr":2009.003,"T":0.19,"A":0.20,"M":0.21},{"yr":2009.026,"T":0.26,"A":0.27,"M":0.28},{"yr":2009.049,"T":0.19,"A":0.20,"M":0.21},{"yr":2009.072,"T":0.28,"A":0.29,"M":0.30},{"yr":2009.095,"T":0.05,"A":0.08,"M":0.10},{"yr":2009.118,"T":0.19,"A":0.20,"M":0.21},{"yr":2009.141,"T":0.26,"A":0.27,"M":0.28},{"yr":2009.164,"T":0.25,"A":0.26,"M":0.27},{"yr":2009.186,"T":0.12,"A":0.13,"M":0.14},{"yr":2009.209,"T":0.14,"A":0.15,"M":0.16},{"yr":2009.232,"T":0.19,"A":0.20,"M":0.21},{"yr":2009.255,"T":0.19,"A":0.20,"M":0.21},{"yr":2009.278,"T":0.02,"A":0.09,"M":0.10},{"yr":2009.301,"T":0.14,"A":0.15,"M":0.16},{"yr":2009.324,"T":0.19,"A":0.20,"M":0.21},{"yr":2009.347,"T":0.15,"A":0.16,"M":0.17},{"yr":2009.369,"T":0.10,"A":0.11,"M":0.12},{"yr":2009.392,"T":0.17,"A":0.18,"M":0.19},{"yr":2009.415,"T":0.17,"A":0.18,"M":0.19},{"yr":2009.438,"T":0.08,"A":0.09,"M":0.10},{"yr":2009.461,"T":0.19,"A":0.20,"M":0.21},{"yr":2009.484,"T":0.00,"A":0.13,"M":0.14},{"yr":2009.507,"T":0.10,"A":0.11,"M":0.12},{"yr":2009.530,"T":0.15,"A":0.16,"M":0.17},{"yr":2009.553,"T":0.08,"A":0.09,"M":0.10},{"yr":2009.576,"T":0.12,"A":0.13,"M":0.14},{"yr":2009.598,"T":0.10,"A":0.11,"M":0.12},{"yr":2009.621,"T":0.14,"A":0.15,"M":0.16},{"yr":2009.644,"T":0.08,"A":0.09,"M":0.10},{"yr":2009.667,"T":0.05,"A":0.06,"M":0.08},{"yr":2009.690,"T":0.06,"A":0.07,"M":0.08},{"yr":2009.713,"T":0.02,"A":0.03,"M":0.05},{"yr":2009.759,"T":0.05,"A":0.06,"M":0.07},{"yr":2009.804,"T":0.01,"A":0.02,"M":0.03},{"yr":2009.850,"T":0.06,"A":0.07,"M":0.08},{"yr":2009.896,"T":0.03,"A":0.04,"M":0.05},{"yr":2009.942,"T":0.08,"A":0.09,"M":0.10},{"yr":2009.988,"T":0.01,"A":0.02,"M":0.03},{"yr":2010.033,"T":0.05,"A":0.06,"M":0.07},{"yr":2010.079,"T":0.03,"A":0.04,"M":0.05},{"yr":2010.125,"T":0.08,"A":0.09,"M":0.10},{"yr":2010.171,"T":0.10,"A":0.11,"M":0.12},{"yr":2010.217,"T":0.08,"A":0.09,"M":0.10},{"yr":2010.262,"T":0.16,"A":0.17,"M":0.16},{"yr":2010.308,"T":0.10,"A":0.11,"M":0.12},{"yr":2010.354,"T":0.15,"A":0.16,"M":0.17},{"yr":2010.400,"T":0.12,"A":0.13,"M":0.14},{"yr":2010.446,"T":0.14,"A":0.15,"M":0.16},{"yr":2010.491,"T":0.15,"A":0.16,"M":0.17},{"yr":2010.537,"T":0.14,"A":0.15,"M":0.16},{"yr":2010.583,"T":0.15,"A":0.16,"M":0.17},{"yr":2010.629,"T":0.17,"A":0.18,"M":0.19},{"yr":2010.675,"T":0.15,"A":0.16,"M":0.17},{"yr":2010.720,"T":0.20,"A":0.22,"M":0.25},{"yr":2010.766,"T":0.15,"A":0.16,"M":0.17},{"yr":2010.812,"T":0.18,"A":0.20,"M":0.21},{"yr":2010.858,"T":0.20,"A":0.22,"M":0.23},{"yr":2010.903,"T":0.12,"A":0.13,"M":0.14},{"yr":2010.949,"T":0.18,"A":0.20,"M":0.21},{"yr":2010.995,"T":0.20,"A":0.22,"M":0.25},{"yr":2011.041,"T":0.10,"A":0.11,"M":0.12},{"yr":2011.087,"T":0.08,"A":0.09,"M":0.10},{"yr":2011.132,"T":0.10,"A":0.11,"M":0.12},{"yr":2011.178,"T":0.06,"A":0.07,"M":0.08},{"yr":2011.224,"T":0.06,"A":0.07,"M":0.08},{"yr":2011.270,"T":0.00,"A":0.00,"M":0.01},{"yr":2011.316,"T":0.03,"A":0.04,"M":0.05},{"yr":2011.361,"T":0.06,"A":0.07,"M":0.08},{"yr":2011.407,"T":0.01,"A":0.02,"M":0.03},{"yr":2011.453,"T":0.03,"A":0.04,"M":0.05},{"yr":2011.499,"T":0.05,"A":0.06,"M":0.07},{"yr":2011.544,"T":0.03,"A":0.04,"M":0.05},{"yr":2011.567,"T":0.06,"A":0.08,"M":0.34},{"yr":2011.590,"T":0.05,"A":0.06,"M":0.07},{"yr":2011.636,"T":0.05,"A":0.10,"M":0.14},{"yr":2011.682,"T":0.05,"A":0.06,"M":0.07},{"yr":2011.728,"T":0.06,"A":0.10,"M":0.16},{"yr":2011.773,"T":0.03,"A":0.04,"M":0.05},{"yr":2011.819,"T":0.06,"A":0.10,"M":0.16},{"yr":2011.865,"T":0.05,"A":0.06,"M":0.07},{"yr":2011.888,"T":0.08,"A":0.12,"M":0.23},{"yr":2011.920,"T":0.02,"A":0.04,"M":0.05},{"yr":2011.956,"T":0.05,"A":0.07,"M":0.08},{"yr":2011.993,"T":0.02,"A":0.04,"M":0.05},{"yr":2012.025,"T":0.06,"A":0.10,"M":0.21},{"yr":2012.064,"T":0.06,"A":0.08,"M":0.10}
]},
"data":{"name":"repo"},
"layer":[
{"layer":[
{"mark":{"type":"line","strokeWidth":1.6,"strokeJoin":"round","clip":true},
"encoding":{
"x":{"field":"yr","type":"quantitative","scale":{"domain":[1997.707,2012.192],"nice":false,"zero":false},"axis":{"values":[1998,2000,2002,2004,2006,2008,2010,2012],"format":"d","labelPadding":23,"title":"Date","titlePadding":5}},
"y":{"field":"T","type":"quantitative","scale":{"domain":[-1,8],"nice":false,"zero":false},"axis":{"values":[-1,0,1,2,3,4,5,6,7,8],"format":"d","labelPadding":19,"title":"Percent","titlePadding":14}},
"color":{"datum":"Treasury","type":"nominal","scale":{"domain":["Treasury","Agency","Mortgage−Backed"],"range":["#000000","#0000ff","#ff0000"]},"legend":{"title":null,"orient":"top-right","offset":13}}}},
{"mark":{"type":"line","strokeWidth":1.6,"strokeJoin":"round","clip":true},
"encoding":{"x":{"field":"yr","type":"quantitative","title":"Date"},"y":{"field":"A","type":"quantitative","title":"Percent"},"color":{"datum":"Agency","type":"nominal"}}},
{"mark":{"type":"line","strokeWidth":1.6,"strokeJoin":"round","clip":true},
"encoding":{"x":{"field":"yr","type":"quantitative","title":"Date"},"y":{"field":"M","type":"quantitative","title":"Percent"},"color":{"datum":"Mortgage−Backed","type":"nominal"}}}
]},
{"mark":{"type":"point","opacity":0},
"encoding":{
"x":{"field":"yr","type":"quantitative","axis":{"orient":"top","values":[1998,2000,2002,2004,2006,2008,2010,2012],"labels":false,"title":null}},
"y":{"field":"M","type":"quantitative","axis":{"orient":"right","values":[-1,0,1,2,3,4,5,6,7,8],"labels":false,"title":null}}}}
],
"resolve":{"axis":{"x":"independent","y":"independent"}}
}
